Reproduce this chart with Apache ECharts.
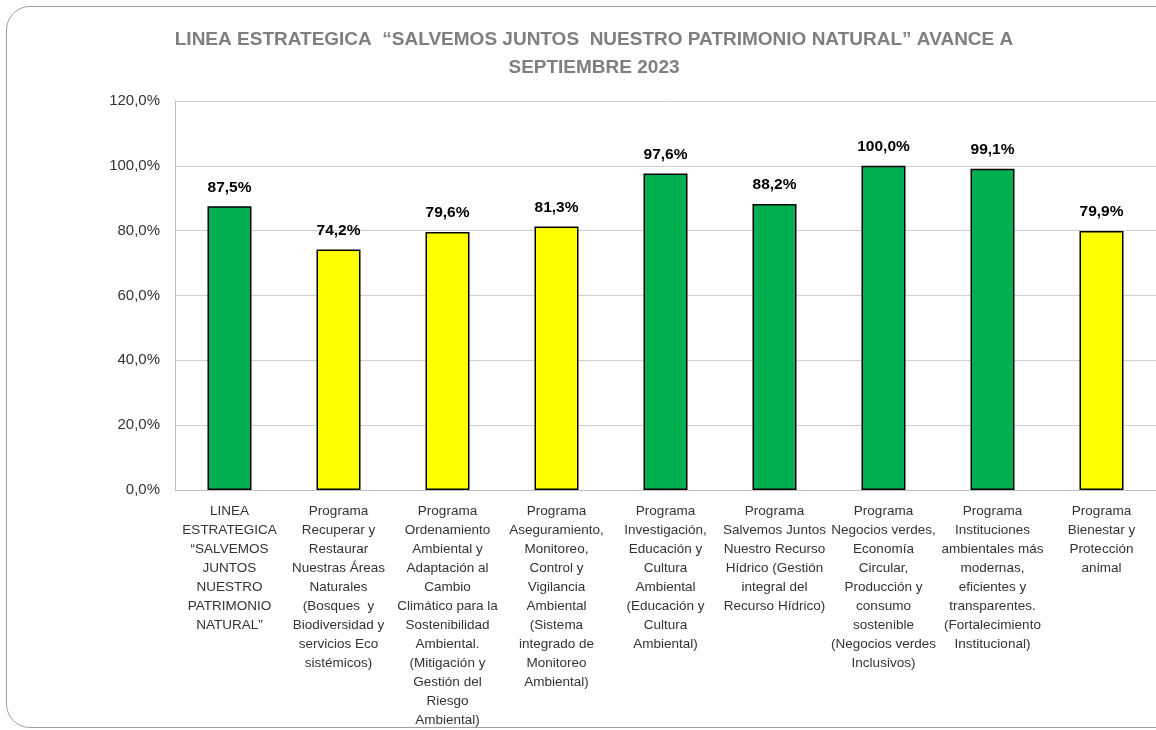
<!DOCTYPE html>
<html>
<head>
<meta charset="utf-8">
<script src="https://cdn.jsdelivr.net/npm/echarts@6/dist/echarts.min.js"></script>
<style>
  html, body { margin: 0; padding: 0; background: #fff; }
  #frame {
    position: absolute; left: 6px; top: 6px; width: 1220px; height: 720px;
    border: 1px solid #a0a0a0; border-radius: 24px;
  }
  #content { position: absolute; left: 0; top: 0; width: 1156px; height: 730px; }
</style>
</head>
<body>
<div id="frame"></div>
<div id="content"></div>
<script>
var categories = [
  'LINEA\nESTRATEGICA\n“SALVEMOS\nJUNTOS\nNUESTRO\nPATRIMONIO\nNATURAL”',
  'Programa\nRecuperar y\nRestaurar\nNuestras Áreas\nNaturales\n(Bosques  y\nBiodiversidad y\nservicios Eco\nsistémicos)',
  'Programa\nOrdenamiento\nAmbiental y\nAdaptación al\nCambio\nClimático para la\nSostenibilidad\nAmbiental.\n(Mitigación y\nGestión del\nRiesgo\nAmbiental)',
  'Programa\nAseguramiento,\nMonitoreo,\nControl y\nVigilancia\nAmbiental\n(Sistema\nintegrado de\nMonitoreo\nAmbiental)',
  'Programa\nInvestigación,\nEducación y\nCultura\nAmbiental\n(Educación y\nCultura\nAmbiental)',
  'Programa\nSalvemos Juntos\nNuestro Recurso\nHídrico (Gestión\nintegral del\nRecurso Hídrico)',
  'Programa\nNegocios verdes,\nEconomía\nCircular,\nProducción y\nconsumo\nsostenible\n(Negocios verdes\nInclusivos)',
  'Programa\nInstituciones\nambientales más\nmodernas,\neficientes y\ntransparentes.\n(Fortalecimiento\nInstitucional)',
  'Programa\nBienestar y\nProtección\nanimal'
]
var avance = [87.5, 74.2, 79.6, 81.3, 97.6, 88.2, 100.0, 99.1, 79.9]
var yTicks = [0, 20, 40, 60, 80, 100, 120]

var chartDom = document.getElementById('content')
var myChart = echarts.init(chartDom)
var option

var pct = function (v) {
  return v.toFixed(1).replace('.', ',') + '%'
}

option = {
  animation: false,
  title: {
    text: 'LINEA ESTRATEGICA  “SALVEMOS JUNTOS  NUESTRO PATRIMONIO NATURAL” AVANCE A\nSEPTIEMBRE 2023',
    left: 589,
    top: 21,
    textAlign: 'center',
    textStyle: {
      fontFamily: 'Liberation Sans, Arial, sans-serif',
      fontSize: 19,
      fontWeight: 'bold',
      color: '#7f7f7f',
      lineHeight: 28
    }
  },
  grid: {
    left: 175,
    top: 101,
    width: 986,
    height: 389
  },
  xAxis: {
    type: 'category',
    data: categories,
    axisLine: { lineStyle: { color: '#bfbfbf' } },
    axisTick: { show: false },
    axisLabel: {
      interval: 0,
      margin: 12,
      fontFamily: 'Liberation Sans, Arial, sans-serif',
      fontSize: 13.5,
      lineHeight: 19,
      color: '#333333',
      align: 'center'
    }
  },
  yAxis: {
    type: 'value',
    min: yTicks[0],
    max: yTicks[yTicks.length - 1],
    interval: yTicks[1] - yTicks[0],
    axisLine: { show: true, lineStyle: { color: '#bfbfbf' } },
    axisTick: { show: false },
    splitLine: { lineStyle: { color: '#d0d0d0' } },
    axisLabel: {
      margin: 15,
      fontFamily: 'Liberation Sans, Arial, sans-serif',
      fontSize: 15,
      color: '#333333',
      formatter: pct
    }
  },
  series: [
    {
      type: 'bar',
      barWidth: 44,
      data: avance.map(function (v) {
        return {
          value: v,
          itemStyle: { color: v >= 85 ? '#00b050' : '#ffff00' }
        }
      }),
      itemStyle: { borderColor: '#000', borderWidth: 1.5 },
      label: {
        show: true,
        position: 'top',
        distance: 11,
        fontFamily: 'Liberation Sans, Arial, sans-serif',
        fontSize: 15.5,
        fontWeight: 'bold',
        color: '#000',
        formatter: function (p) { return pct(p.value) }
      }
    }
  ]
}

option && myChart.setOption(option)
</script>
</body>
</html>
